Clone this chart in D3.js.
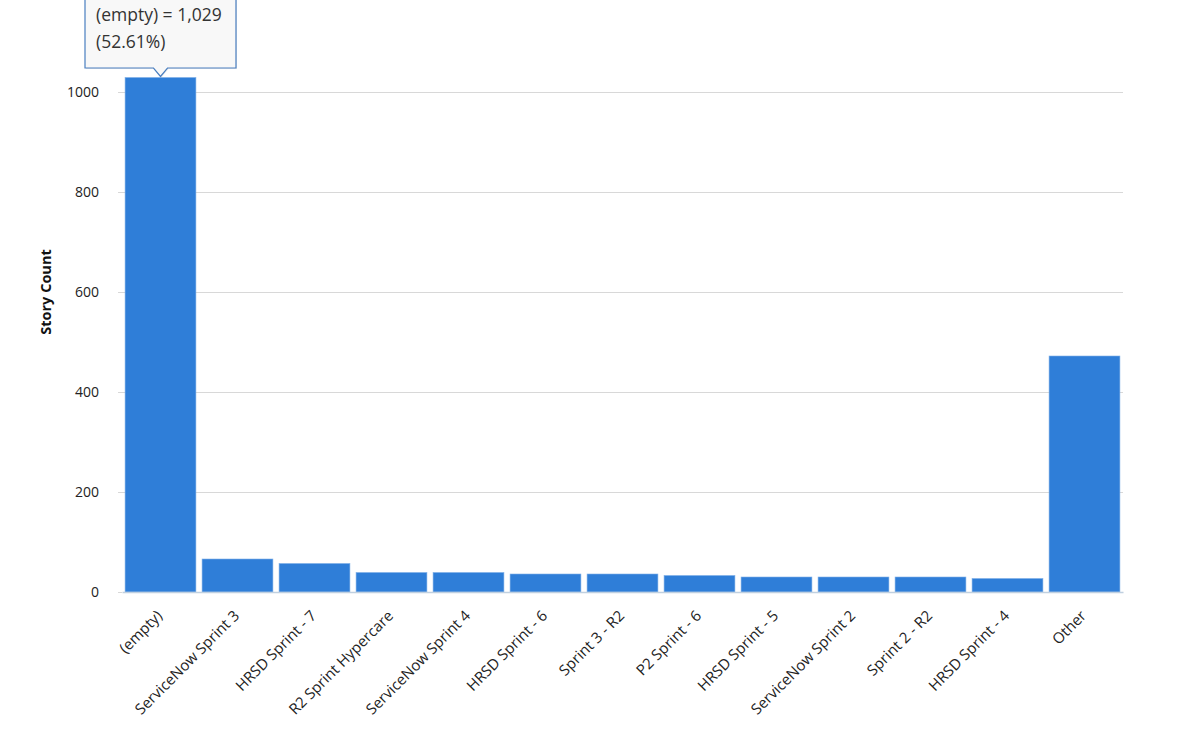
<!DOCTYPE html>
<html><head><meta charset="utf-8">
<script src="https://cdn.jsdelivr.net/npm/d3@7/dist/d3.min.js"></script>
<style>
body{margin:0;background:#fff;}
svg{display:block;}
svg text{font-family:"Open Sans","Noto Sans",sans-serif;}
</style></head>
<body><svg id="chart" width="1177" height="738"></svg>
<script>
const categories = ["(empty)","ServiceNow Sprint 3","HRSD Sprint - 7","R2 Sprint Hypercare","ServiceNow Sprint 4","HRSD Sprint - 6","Sprint 3 - R2","P2 Sprint - 6","HRSD Sprint - 5","ServiceNow Sprint 2","Sprint 2 - R2","HRSD Sprint - 4","Other"];
const values = [1029,66,57,39,39,36,36,33,30,30,30,27,472];
const yTicks = [0,200,400,600,800,1000];
const yTitle = "Story Count";
const tooltipLines = ["(empty) = 1,029","(52.61%)"];

(function(){
const svg = d3.select("#chart");
const mL = 122, mR = 1123, mT = 92, mB = 592;
const x = d3.scaleBand().domain(categories).range([mL, mR]).paddingInner(0.08).paddingOuter(0.04);
const y = d3.scaleLinear().domain([0,1000]).range([mB, mT]);

// grid
svg.append("g").selectAll("line").data(yTicks.filter(d=>d>0)).join("line")
  .attr("x1", mL-4).attr("x2", mR).attr("y1", d=>y(d)).attr("y2", d=>y(d))
  .attr("stroke","#d8d8d8").attr("stroke-width",1).attr("shape-rendering","crispEdges");

// y axis
const yAxis = svg.append("g").attr("transform",`translate(${mL},0)`)
  .call(d3.axisLeft(y).tickValues(yTicks).tickSize(4).tickPadding(19).tickFormat(d3.format("d")));
yAxis.attr("font-family",null);
yAxis.select(".domain").remove();
yAxis.selectAll(".tick line").attr("stroke","#d8d8d8");
yAxis.selectAll("text").attr("font-size","14px").attr("fill","#222");

// bars
svg.append("g").selectAll("rect").data(values).join("rect")
  .attr("x",(d,i)=>x(categories[i])).attr("width",x.bandwidth())
  .attr("y",d=>y(d)).attr("height",d=>mB-y(d))
  .attr("fill","#2f7ed8").attr("stroke","#7fb0e8").attr("stroke-width",0.6);

// x axis
const xAxis = svg.append("g").attr("transform",`translate(0,${mB})`)
  .call(d3.axisBottom(x).tickSize(0).tickPadding(0));
xAxis.attr("font-family",null);
xAxis.select(".domain").attr("stroke","#c0d0e0").attr("stroke-width",1.5);
xAxis.selectAll("text").attr("font-size","15px").attr("fill","#222")
  .attr("x",0).attr("y",0).attr("dy","0.35em")
  .attr("text-anchor","end")
  .attr("transform","translate(-1,21) rotate(-45)");

// y title
svg.append("text").attr("transform",`translate(51,292) rotate(-90)`)
  .attr("text-anchor","middle").attr("font-size","14.5px").attr("font-weight","bold").attr("fill","#111")
  .text(yTitle);

// tooltip
const cx = x(categories[0]) + x.bandwidth()/2;
const tipY = y(values[0]) - 1;
const tg = svg.append("g");
const bx = 85, bw = 151, by = -6, bh = 74;
const path = `M${bx},${by} H${bx+bw} V${by+bh} H${cx+7} L${cx},${tipY} L${cx-7},${by+bh} H${bx} Z`;
tg.append("path").attr("d",path).attr("transform","translate(1,1)").attr("fill","rgba(0,0,0,0.08)");
tg.append("path").attr("d",path).attr("fill","#f8f8f8").attr("stroke","#4a7fc0").attr("stroke-width",1.2);
tg.selectAll("text.t").data(tooltipLines).join("text").attr("class","t")
  .attr("x",96).attr("y",(d,i)=>21+i*27).attr("font-size","17.5px").attr("fill","#333").text(d=>d);
})();
</script></body></html>
